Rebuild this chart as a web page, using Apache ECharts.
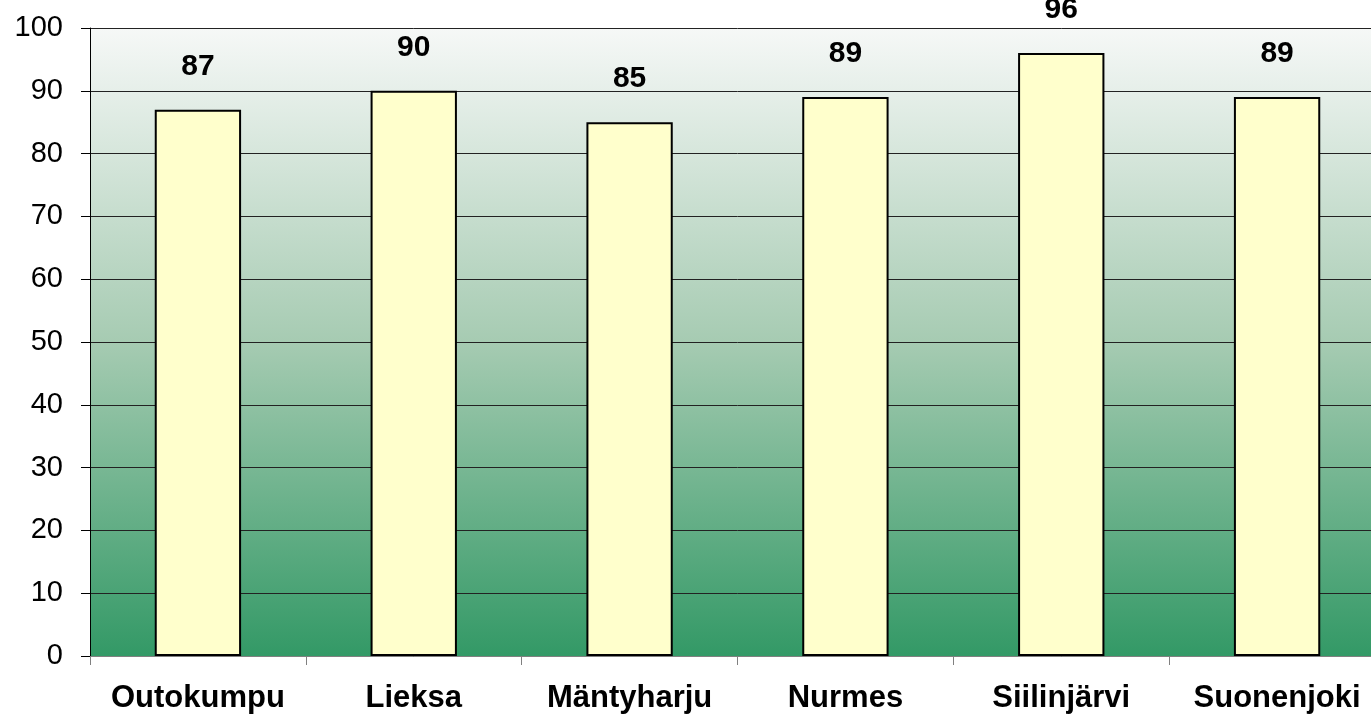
<!DOCTYPE html>
<html>
<head>
<meta charset="utf-8">
<script src="https://cdn.jsdelivr.net/npm/echarts@6/dist/echarts.min.js"></script>
<style>
  html, body { margin: 0; padding: 0; overflow: hidden; background: #fff; }
  #chart { width: 1400px; height: 724px; }
</style>
</head>
<body>
<div id="chart"></div>
<script>
var categories = ['Outokumpu', 'Lieksa', 'Mäntyharju', 'Nurmes', 'Siilinjärvi', 'Suonenjoki']
var values = [87, 90, 85, 89, 96, 89]

var chart = echarts.init(document.getElementById('chart'))
var option = {
  animation: false,
  grid: {
    left: 90,
    right: 15,
    top: 28,
    bottom: 68,
    show: true,
    borderWidth: 0,
    backgroundColor: {
      type: 'linear', x: 0, y: 0, x2: 0, y2: 1,
      colorStops: [
        { offset: 0, color: '#f6f8f7' },
        { offset: 0.5, color: '#a6cbb2' },
        { offset: 1, color: '#339966' }
      ]
    }
  },
  xAxis: {
    type: 'category',
    data: categories,
    axisLine: { show: true, lineStyle: { color: '#808080', width: 1 } },
    axisTick: { show: true, length: 9, lineStyle: { color: '#808080' } },
    axisLabel: {
      interval: 0,
      margin: 27,
      fontFamily: 'Liberation Sans',
      fontWeight: 'bold',
      fontSize: 31,
      color: '#000'
    }
  },
  yAxis: {
    type: 'value',
    min: 0,
    max: 100,
    interval: 10,
    axisLine: { show: true, lineStyle: { color: '#000', width: 1 } },
    axisTick: { show: true, length: 9, inside: false, lineStyle: { color: '#000' } },
    axisLabel: {
      margin: 27,
      fontFamily: 'Liberation Sans',
      fontSize: 29,
      color: '#000'
    },
    splitLine: { show: true, lineStyle: { color: '#222', width: 1 } }
  },
  series: [
    {
      type: 'bar',
      data: values,
      barWidth: '40%',
      itemStyle: {
        color: '#ffffcc',
        borderColor: '#000',
        borderWidth: 2
      },
      label: {
        show: true,
        position: 'top',
        distance: 28,
        fontFamily: 'Liberation Sans',
        fontWeight: 'bold',
        fontSize: 30,
        color: '#000'
      }
    }
  ]
}
chart.setOption(option)
</script>
</body>
</html>
